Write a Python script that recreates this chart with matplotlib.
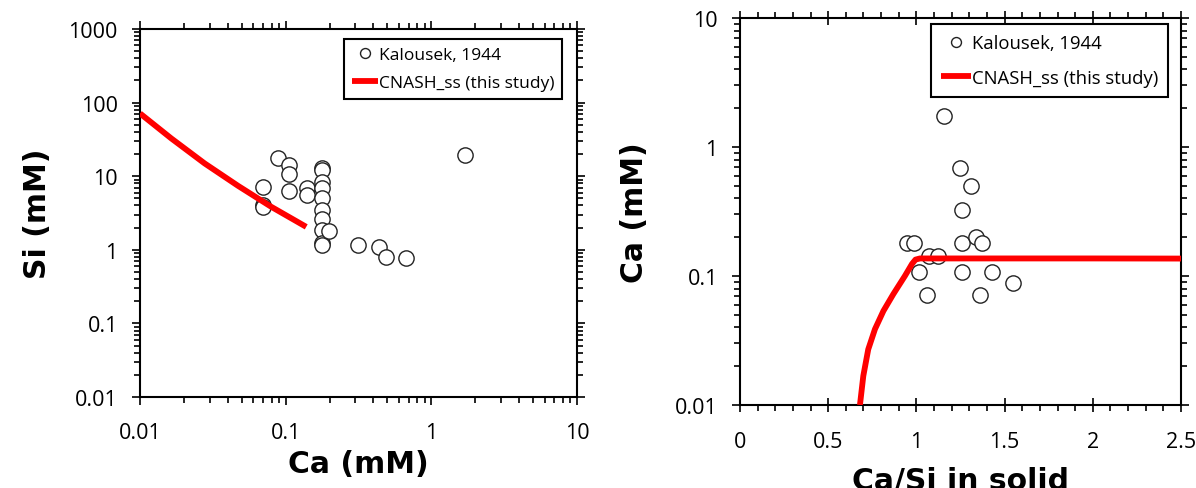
import matplotlib
matplotlib.use("Agg")
import matplotlib.pyplot as plt
from matplotlib.ticker import LogLocator, FixedLocator, MultipleLocator, FuncFormatter, NullFormatter

plt.rcParams['font.family'] = ['Open Sans', 'DejaVu Sans']

# ---- Left panel data: Si vs Ca ----
kal_ca = [0.0703, 0.0703, 0.0703, 0.0883, 0.106, 0.106, 0.106, 0.141, 0.141,
          0.177, 0.177, 0.177, 0.177, 0.177, 0.177, 0.177, 0.177, 0.177, 0.177,
          0.199, 0.316, 0.44, 0.492, 0.671, 1.71]
kal_si = [7.2, 4.0, 3.76, 17.8, 14.2, 10.7, 6.3, 7.0, 5.5,
          13.0, 12.1, 8.4, 6.95, 4.98, 3.46, 2.66, 1.85, 1.22, 1.16,
          1.79, 1.18, 1.08, 0.80, 0.776, 19.3]
model_ca = [0.01, 0.0164, 0.0278, 0.0471, 0.0796, 0.1384]
model_si = [71.3, 32.6, 14.9, 7.40, 3.84, 2.05]

# ---- Right panel data: Ca vs Ca/Si in solid ----
kal_casi = [1.159, 1.248, 1.31, 1.259, 0.946, 0.989, 1.259, 1.339, 1.371,
            1.074, 1.12, 1.017, 1.259, 1.43, 1.547, 1.061, 1.36]
kal_ca2 = [1.75, 0.682, 0.50, 0.324, 0.179, 0.179, 0.179, 0.201, 0.179,
           0.143, 0.143, 0.1076, 0.1076, 0.1076, 0.089, 0.0718, 0.0718]
model_casi = [0.680, 0.699, 0.727, 0.765, 0.813, 0.869, 0.935, 0.975, 0.995, 1.02,
              1.5, 2.0, 2.5]
model_ca2 = [0.0100, 0.0168, 0.0270, 0.0387, 0.0536, 0.0723, 0.1002, 0.124, 0.134, 0.1368,
             0.1368, 0.1368, 0.1365]

left_yticks = [0.01, 0.1, 1, 10, 100, 1000]
left_xticks = [0.01, 0.1, 1, 10]
right_yticks = [0.01, 0.1, 1, 10]
right_xticks = [0, 0.5, 1, 1.5, 2, 2.5]

RED = '#ff0000'
LABEL_FONT = dict(fontsize=21.5, fontweight='bold', family=['DejaVu Sans'])

fig = plt.figure(figsize=(11.96, 4.89), dpi=100)
ax1 = fig.add_axes([140/1196, 1-398/489, 437/1196, 368/489])
ax2 = fig.add_axes([740/1196, 1-406/489, 441/1196, 387/489])

def fmt(v, pos):
    if v >= 1:
        return '%d' % round(v)
    return ('%g' % v)

for ax in (ax1, ax2):
    for s in ax.spines.values():
        s.set_linewidth(1.5)
    ax.tick_params(which='both', direction='out', top=True, right=True,
                   labelsize=15.5, width=1.2, colors='black')
    ax.tick_params(which='major', length=6)
    ax.tick_params(which='minor', length=4)
    ax.tick_params(axis='x', which='major', pad=12)
    ax.tick_params(axis='y', which='major', pad=10)

# Left
ax1.plot(kal_ca, kal_si, 'o', mfc='white', mec='#222222', mew=1.0, ms=11, zorder=3,
         label='Kalousek, 1944')
ax1.plot(model_ca, model_si, '-', color=RED, lw=4.2, zorder=4, solid_capstyle='butt',
         solid_joinstyle='round', label='CNASH_ss (this study)')
ax1.set_xscale('log'); ax1.set_yscale('log')
ax1.set_xlim(0.01, 10); ax1.set_ylim(0.01, 1000)
ax1.xaxis.set_major_locator(FixedLocator(left_xticks))
ax1.yaxis.set_major_locator(FixedLocator(left_yticks))
ax1.xaxis.set_minor_locator(LogLocator(base=10, subs=range(2, 10), numticks=20))
ax1.yaxis.set_minor_locator(LogLocator(base=10, subs=range(2, 10), numticks=20))
ax1.xaxis.set_major_formatter(FuncFormatter(fmt))
ax1.yaxis.set_major_formatter(FuncFormatter(fmt))
ax1.xaxis.set_minor_formatter(NullFormatter())
ax1.yaxis.set_minor_formatter(NullFormatter())
ax1.set_xlabel('Ca (mM)', labelpad=4, **LABEL_FONT)
ax1.set_ylabel('Si (mM)', labelpad=12, **LABEL_FONT)
leg1 = ax1.legend(loc='upper right', bbox_to_anchor=(0.9657, 0.9728), fontsize=12.5,
                  frameon=True, fancybox=False, edgecolor='black', markerscale=0.65,
                  handlelength=1.5, handletextpad=0.05, labelspacing=0.7,
                  borderpad=0.45, borderaxespad=0, framealpha=1)
leg1.get_frame().set_linewidth(1.5)

# Right
ax2.plot(kal_casi, kal_ca2, 'o', mfc='white', mec='#222222', mew=1.0, ms=11, zorder=3,
         label='Kalousek, 1944')
ax2.plot(model_casi, model_ca2, '-', color=RED, lw=4.2, zorder=4, solid_capstyle='butt',
         solid_joinstyle='round', label='CNASH_ss (this study)')
ax2.set_yscale('log')
ax2.set_xlim(0, 2.5); ax2.set_ylim(0.01, 10)
ax2.xaxis.set_major_locator(FixedLocator(right_xticks))
ax2.xaxis.set_minor_locator(MultipleLocator(0.1))
ax2.yaxis.set_major_locator(FixedLocator(right_yticks))
ax2.yaxis.set_minor_locator(LogLocator(base=10, subs=range(2, 10), numticks=20))
ax2.xaxis.set_major_formatter(FuncFormatter(lambda v, p: '%g' % v))
ax2.yaxis.set_major_formatter(FuncFormatter(fmt))
ax2.yaxis.set_minor_formatter(NullFormatter())
ax2.tick_params(axis='x', which='major', direction='inout', length=10, pad=14)
ax2.set_xlabel('Ca/Si in solid', labelpad=10, **LABEL_FONT)
ax2.set_ylabel('Ca (mM)', labelpad=19, **LABEL_FONT)
leg2 = ax2.legend(loc='upper right', bbox_to_anchor=(0.9705, 0.9845), fontsize=13.3,
                  frameon=True, fancybox=False, edgecolor='black', markerscale=0.65,
                  handlelength=1.6, handletextpad=0.05, labelspacing=0.9,
                  borderpad=0.55, borderaxespad=0, framealpha=1)
leg2.get_frame().set_linewidth(1.5)

fig.savefig('out.png', dpi=100)
